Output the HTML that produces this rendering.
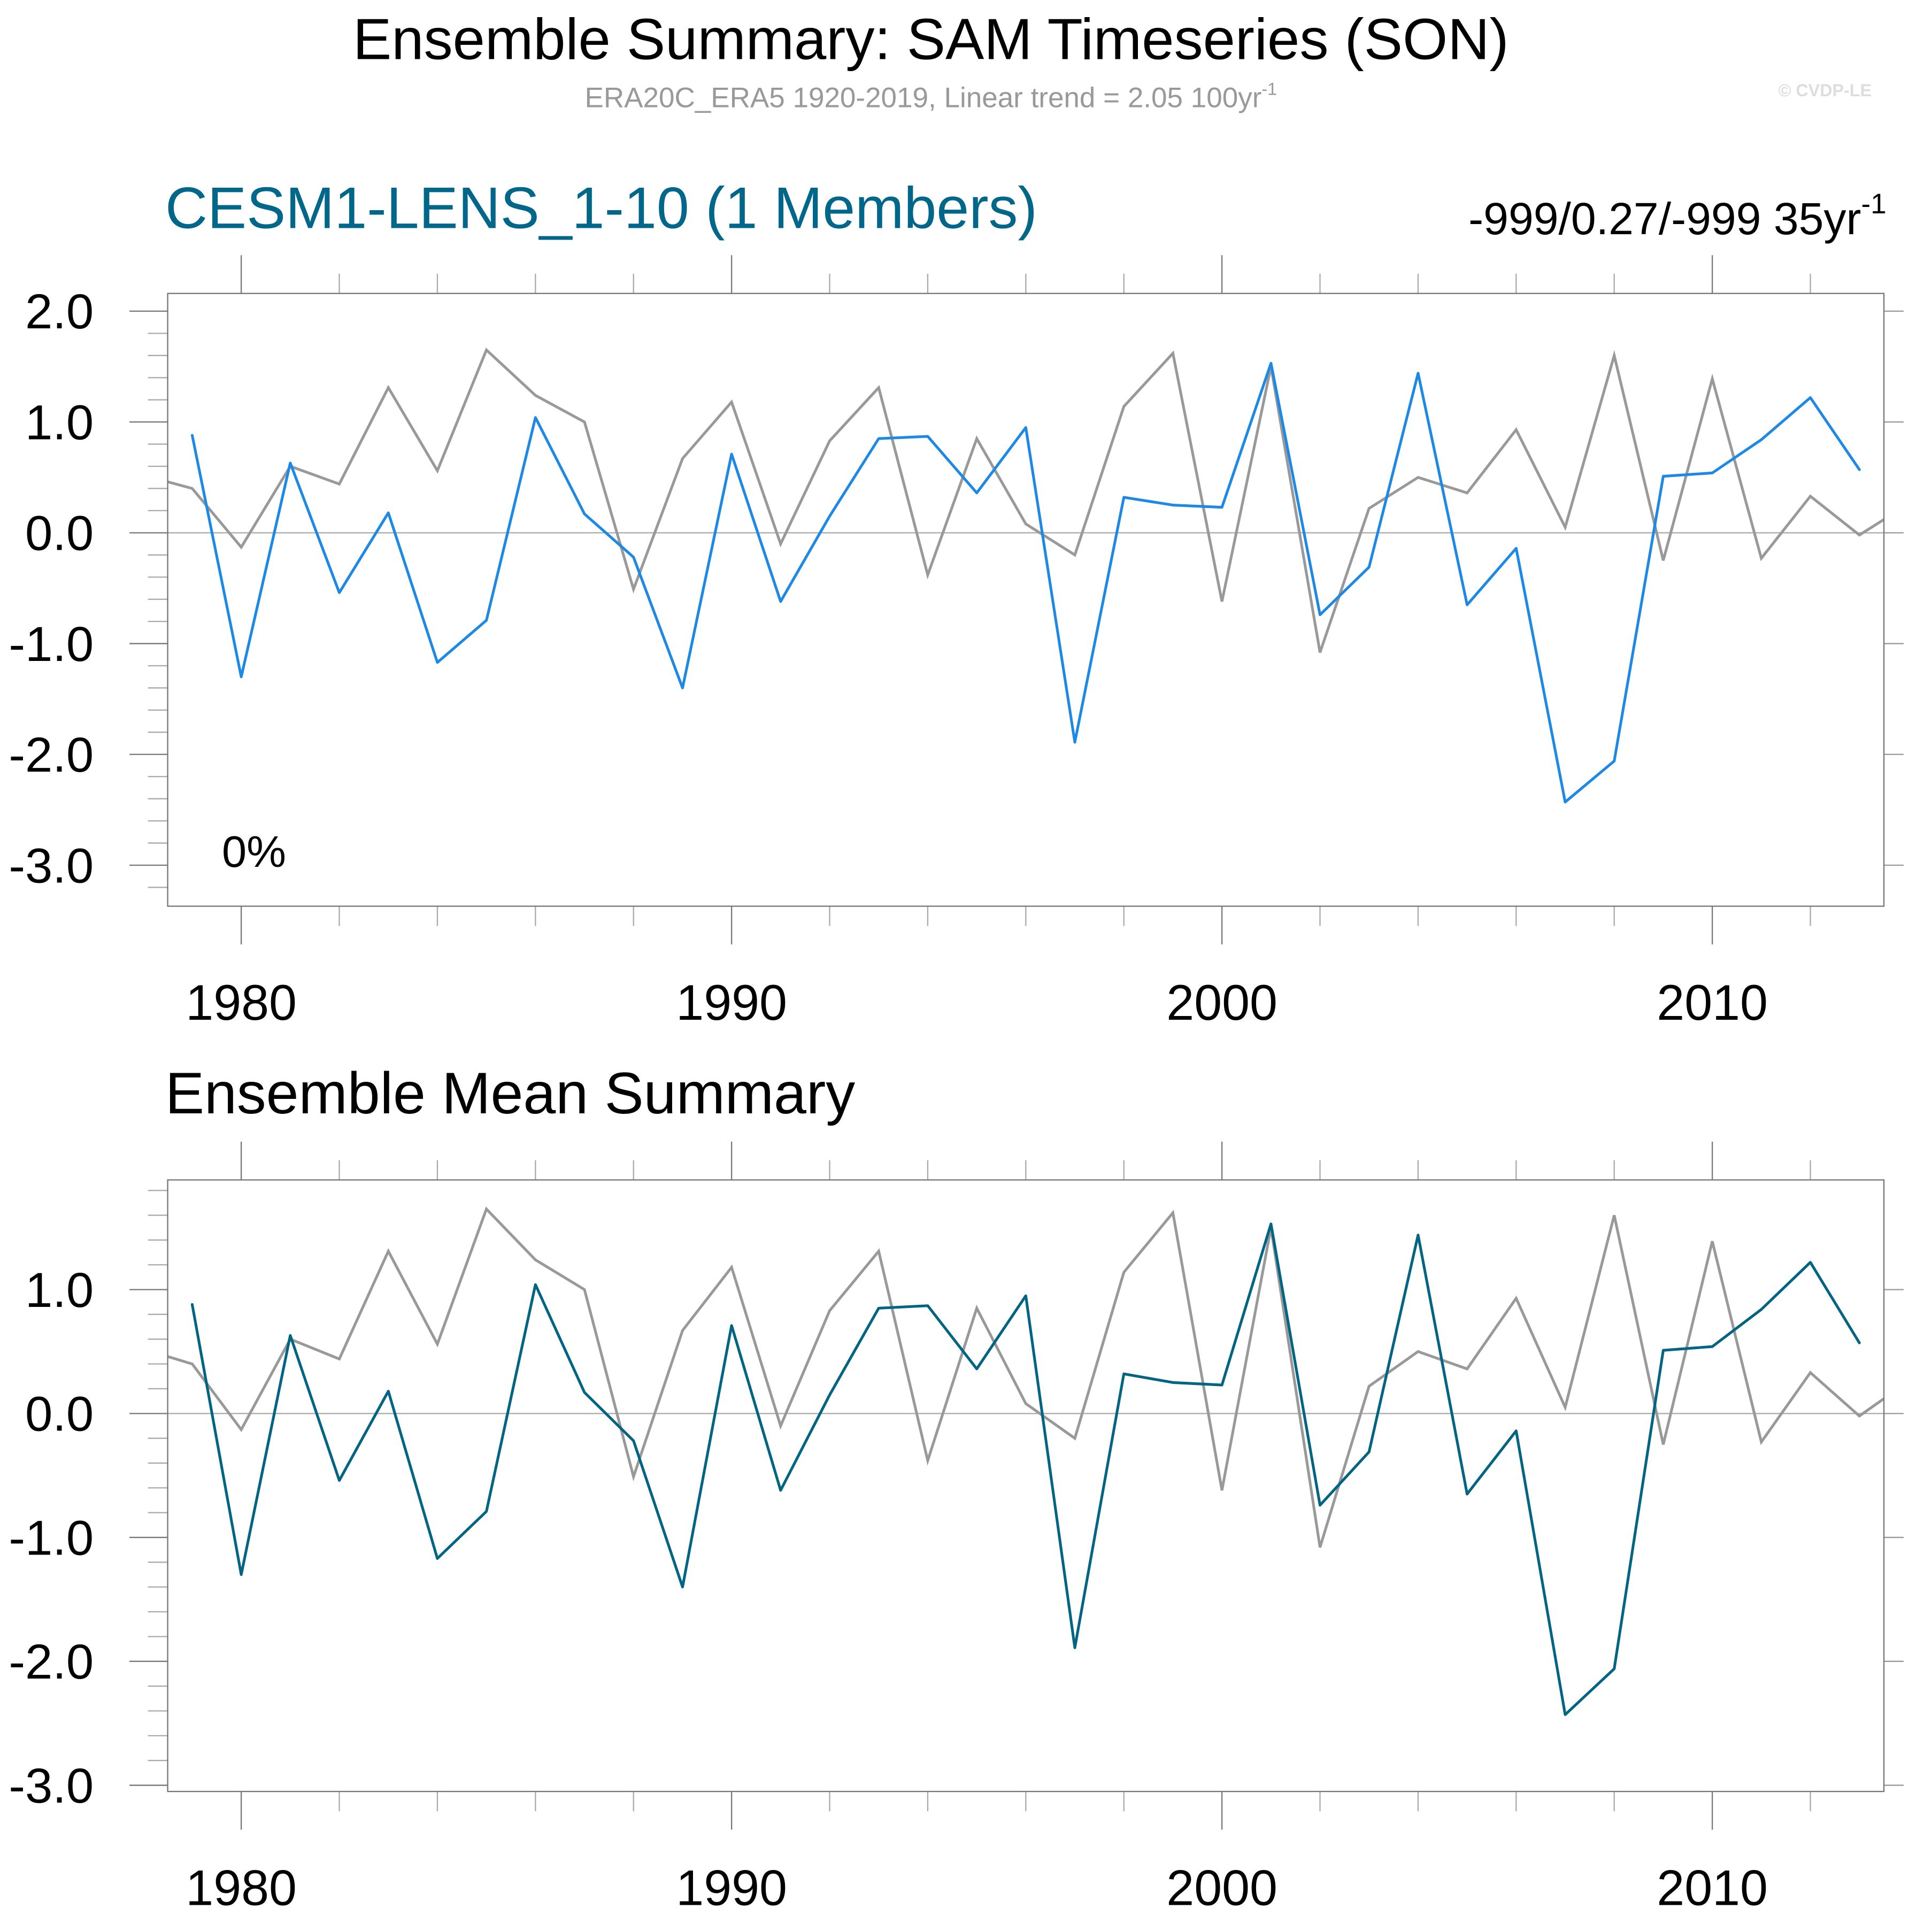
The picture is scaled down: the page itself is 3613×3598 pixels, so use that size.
<!DOCTYPE html>
<html><head><meta charset="utf-8"><style>html,body{margin:0;padding:0;background:#fff}svg{display:block}</style></head>
<body>
<svg id="chart" width="3613" height="3598" viewBox="0 0 1567 1560.5" preserveAspectRatio="none" xmlns="http://www.w3.org/2000/svg" font-family="Liberation Sans, sans-serif">
<text x="755" y="48" font-size="47" text-anchor="middle">Ensemble Summary: SAM Timeseries (SON)</text>
<text x="755" y="87" font-size="23" fill="#999" text-anchor="middle">ERA20C_ERA5 1920-2019, Linear trend = 2.05 100yr<tspan font-size="14" dy="-10">-1</tspan></text>
<text x="1518" y="78" font-size="14" font-weight="bold" fill="#ddd" text-anchor="end">© CVDP-LE</text>
<text x="134" y="185" font-size="47.5" fill="#00678a">CESM1-LENS_1-10 (1 Members)</text>
<text x="1530" y="190" font-size="36.5" text-anchor="end">-999/0.27/-999 35yr<tspan font-size="23" dy="-17">-1</tspan></text>
<text x="134" y="903" font-size="47.5">Ensemble Mean Summary</text>
<text x="180" y="703" font-size="36">0%</text>
<g id="p1"></g>
<g id="p2"></g>
</svg>
<script>
const years = [1979,1980,1981,1982,1983,1984,1985,1986,1987,1988,1989,1990,1991,1992,1993,1994,1995,1996,1997,1998,1999,2000,2001,2002,2003,2004,2005,2006,2007,2008,2009,2010,2011,2012,2013];
const modelValues = [0.88,-1.30,0.63,-0.54,0.18,-1.17,-0.79,1.04,0.17,-0.22,-1.40,0.71,-0.62,0.15,0.85,0.87,0.36,0.95,-1.89,0.32,0.25,0.23,1.53,-0.74,-0.31,1.44,-0.65,-0.14,-2.43,-2.06,0.51,0.54,0.84,1.22,0.57];
const obsYears = [1978,1979,1980,1981,1982,1983,1984,1985,1986,1987,1988,1989,1990,1991,1992,1993,1994,1995,1996,1997,1998,1999,2000,2001,2002,2003,2004,2005,2006,2007,2008,2009,2010,2011,2012,2013,2014];
const obsValues = [0.52,0.40,-0.13,0.60,0.44,1.31,0.56,1.65,1.24,1.00,-0.51,0.67,1.18,-0.10,0.83,1.31,-0.38,0.85,0.08,-0.20,1.14,1.62,-0.62,1.50,-1.08,0.22,0.50,0.36,0.93,0.05,1.60,-0.25,1.39,-0.23,0.33,-0.02,0.26];
const xTickLabels = [1980,1990,2000,2010];
const yTickLabels1 = [2.0,1.0,0.0,-1.0,-2.0,-3.0];
const yTickLabels2 = [1.0,0.0,-1.0,-2.0,-3.0];

const NS='http://www.w3.org/2000/svg';
function mk(tag,attrs,parent){const e=document.createElementNS(NS,tag);for(const k in attrs)e.setAttribute(k,attrs[k]);parent.appendChild(e);return e;}

function panel(g,id,top,bottom,yTop,yBot,yLabels,color,xLabY){
  const L=136,R=1528,x0=1978.5,x1=2013.5;
  const sx=v=>L+(v-x0)/(x1-x0)*(R-L);
  const sy=v=>top+(yTop-v)/(yTop-yBot)*(bottom-top);
  const clip=mk('clipPath',{id:'clip'+id},g);
  mk('rect',{x:L,y:top,width:R-L,height:bottom-top},clip);
  for(let y=1980;y<=2012;y+=2){
    const major=y%10===0, len=major?31:16, x=sx(y);
    const t1=mk('line',{x1:x,x2:x,y1:top-len,y2:top,stroke:major?'#777':'#aaa','stroke-width':1},g);
    
    
    const t2=mk('line',{x1:x,x2:x,y1:bottom,y2:bottom+len,stroke:major?'#777':'#aaa','stroke-width':1},g);
    
    
  }
  xTickLabels.forEach(v=>{
    const t=mk('text',{x:sx(v),y:xLabY,'font-size':40.5,'text-anchor':'middle'},g);
    t.textContent=v;
    
    
  });
  for(let k=Math.ceil(yBot*5);k<=Math.floor(yTop*5);k++){
    const v=k/5, major=k%5===0, y=sy(v);
    const len=major?31:16;
    const t=mk('line',{x1:L-len,x2:L,y1:y,y2:y,stroke:major?'#777':'#aaa','stroke-width':1},g);
    
    
    if(major){
      const r=mk('line',{x1:R,x2:R+16,y1:y,y2:y,stroke:'#999','stroke-width':1},g);
      
      
    }
  }
  yLabels.forEach(v=>{
    const t=mk('text',{x:76,y:sy(v)+14,'font-size':40,'text-anchor':'end'},g);
    t.textContent=v.toFixed(1);
    
    
  });
  const z=mk('line',{x1:L,x2:R,y1:sy(0),y2:sy(0),stroke:'#aaa','stroke-width':1},g);
  
  
  const po=mk('polyline',{points:obsYears.map((y,i)=>sx(y)+','+sy(obsValues[i])).join(' '),fill:'none',stroke:'#999','stroke-width':2.2,'clip-path':'url(#clip'+id+')'},g);
  
  
  const pm=mk('polyline',{points:years.map((y,i)=>sx(y)+','+sy(modelValues[i])).join(' '),fill:'none',stroke:color,'stroke-width':2.2,'stroke-linejoin':'round','stroke-linecap':'round','clip-path':'url(#clip'+id+')'},g);
  
  
  const b=mk('rect',{x:L,y:top,width:R-L,height:bottom-top,fill:'none',stroke:'#777','stroke-width':1},g);
  
  
}
panel(document.getElementById('p1'),1,238,735,2.16,-3.37,yTickLabels1,'#1e88e5',827);
panel(document.getElementById('p2'),2,957,1453,1.885,-3.05,yTickLabels2,'#006482',1545);
</script>
</body></html>
